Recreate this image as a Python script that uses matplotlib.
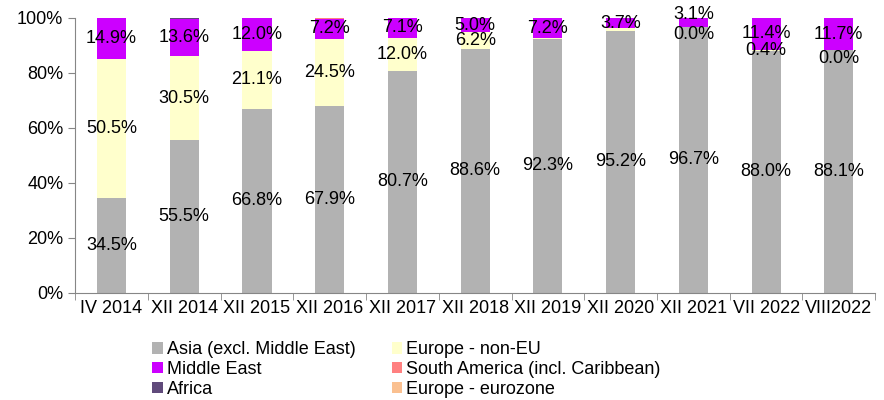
import numpy as np
import matplotlib.pyplot as plt

plt.rcParams['font.family'] = ['Liberation Sans', 'DejaVu Sans']

# categories and shares (%)
periods = ['IV 2014', 'XII 2014', 'XII 2015', 'XII 2016', 'XII 2017', 'XII 2018',
           'XII 2019', 'XII 2020', 'XII 2021', 'VII 2022', 'VIII2022']
asia = [34.5, 55.5, 66.8, 67.9, 80.7, 88.6, 92.3, 95.2, 96.7, 88.0, 88.1]
europe_non_eu = [50.5, 30.5, 21.1, 24.5, 12.0, 6.2, 0.3, 0.9, 0.0, 0.4, 0.0]
middle_east = [14.9, 13.6, 12.0, 7.2, 7.1, 5.0, 7.2, 3.7, 3.1, 11.4, 11.7]
south_america = [0.05, 0.05, 0.05, 0.1, 0.05, 0.05, 0.05, 0.05, 0.05, 0.05, 0.05]
africa = [0.0, 0.1, 0.0, 0.1, 0.0, 0.0, 0.0, 0.0, 0.0, 0.0, 0.0]
europe_euro = [0.05, 0.25, 0.05, 0.2, 0.15, 0.15, 0.15, 0.15, 0.15, 0.15, 0.15]

# which values get a label (Excel hid some)
label_europe = [True, True, True, True, True, True, False, False, True, True, True]

series = [
    ('Asia (excl. Middle East)', asia, '#B2B2B2'),
    ('Europe - non-EU', europe_non_eu, '#FFFFCC'),
    ('Middle East', middle_east, '#CC00FF'),
    ('South America (incl. Caribbean)', south_america, '#FF8080'),
    ('Africa', africa, '#604A7B'),
    ('Europe - eurozone', europe_euro, '#FAC090'),
]

fig = plt.figure(figsize=(8.84, 4.0), dpi=100)
ax = fig.add_axes([0.085, 0.268, 0.905, 0.688])

FS = 13
x = np.arange(len(periods))
bottom = np.zeros(len(periods))
bars = {}
for name, vals, col in series:
    vals = np.array(vals)
    bars[name] = ax.bar(x, vals, 0.4, bottom=bottom, color=col, label=name, zorder=2)
    if name in ('Asia (excl. Middle East)', 'Middle East'):
        for xi, b, v in zip(x, bottom, vals):
            yy = b + v / 2
            if name == 'Middle East' and v < 3.5:
                yy += 3  # Excel nudges the tiny top label upward
            ax.text(xi, yy, '%.1f%%' % v, ha='center', va='center', fontsize=FS,
                    zorder=3, clip_on=False)
    elif name == 'Europe - non-EU':
        for xi, b, v, show in zip(x, bottom, vals, label_europe):
            if show:
                yy = b + v / 2
                if v == 0:
                    yy -= 3  # zero-size segment: label sits just below
                ax.text(xi, yy, '%.1f%%' % v, ha='center', va='center',
                        fontsize=FS, zorder=3)
    bottom = bottom + vals

ax.set_xlim(-0.5, len(periods) - 0.5)
ax.set_ylim(0, 100)
ax.set_yticks(np.arange(0, 101, 20))
ax.set_yticklabels(['%d%%' % v for v in range(0, 101, 20)])
ax.set_xticks(x)
ax.set_xticklabels(periods)
ax.set_xticks(np.arange(-0.5, len(periods), 1), minor=True)
ax.tick_params(axis='x', which='major', length=0, labelsize=FS, pad=5)
ax.tick_params(axis='x', which='minor', length=5, color='#868686')
ax.tick_params(axis='y', length=5, color='#868686', labelsize=FS, direction='out')
for s in ['top', 'right']:
    ax.spines[s].set_visible(False)
for s in ['left', 'bottom']:
    ax.spines[s].set_color('#868686')

handles = [bars[n] for n, _, _ in series]
names = [n for n, _, _ in series]
order = [0, 2, 4, 1, 3, 5]
fig.legend([handles[i] for i in order], [names[i] for i in order], ncol=2,
           loc='lower left', bbox_to_anchor=(0.158, -0.026), frameon=False,
           fontsize=FS, handlelength=0.6, handleheight=0.6, handletextpad=0.2,
           labelspacing=0.15, columnspacing=2.0, borderaxespad=0.3)

fig.savefig('out.png', dpi=100)
